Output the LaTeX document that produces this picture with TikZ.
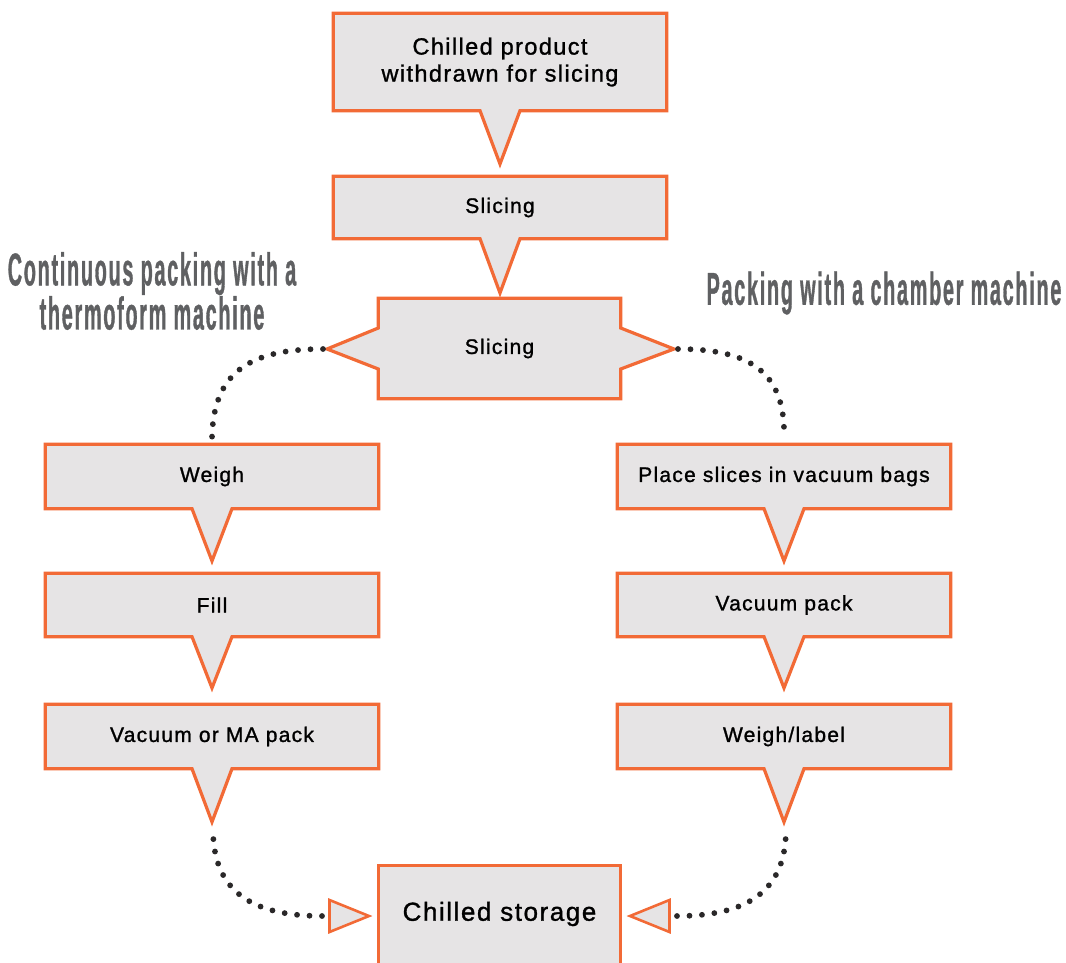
\documentclass[tikz,border=0pt]{standalone}
\usepackage{fontspec}
\usetikzlibrary{calc,backgrounds}
\setmainfont{Liberation Sans}
\newfontfamily\boxfont{Liberation Sans}[LetterSpace=6, FakeBold=1.2]
\newfontfamily\headfont{Liberation Sans}[FakeStretch=0.43, FakeBold=0.7, LetterSpace=3.8]
\definecolor{orangeC}{HTML}{F26A36}
\definecolor{greyC}{HTML}{E6E4E5}
\definecolor{headC}{HTML}{5F6062}
\definecolor{dotC}{HTML}{2A2829}
\tikzset{
  flowbox/.style={draw=orangeC, line width=3.2pt, fill=greyC, line join=miter},
  boxtext/.style={inner sep=0pt, align=center, text=black, font=\boxfont\fontsize{21}{27}\selectfont},
  headtext/.style={inner sep=0pt, align=center, text=headC, font=\headfont\bfseries\fontsize{46}{43}\selectfont},
  dotline/.style={draw=dotC, line width=5.8pt, line cap=round, dash pattern=on 0pt off 12.5pt},
}
\newcommand\downcallout[2]{%
  \draw[flowbox] (#1.north west) -- (#1.north east) -- (#1.south east)
    -- ($(#1.south)+(20,0)$) -- (#2) -- ($(#1.south)+(-20,0)$) -- (#1.south west) -- cycle;}
\begin{document}
\begin{tikzpicture}[x=1pt,y=-1pt]
\useasboundingbox (0,0) rectangle (1066,962);
% text nodes (boxes)
\node[boxtext, minimum width=333pt, minimum height=97pt, font=\boxfont\fontsize{23.5}{27}\selectfont] (b1) at (500,62) {Chilled product\\withdrawn for slicing};
\node[boxtext, minimum width=333pt, minimum height=62pt] (b2) at (500,207.5) {Slicing};
\node[boxtext, minimum width=242pt, minimum height=100pt] (b3) at (499.5,348.5) {Slicing};
\node[boxtext, minimum width=333pt, minimum height=64pt] (w) at (212,476.5) {Weigh};
\node[boxtext, minimum width=333pt, minimum height=63pt] (f) at (212,605) {Fill};
\node[boxtext, minimum width=333pt, minimum height=64pt] (v) at (212,736.5) {Vacuum or MA pack};
\node[boxtext, minimum width=333pt, minimum height=64pt] (p) at (784,476.5) {Place slices in vacuum bags};
\node[boxtext, minimum width=333pt, minimum height=63pt] (vp) at (784,605) {Vacuum pack};
\node[boxtext, minimum width=333pt, minimum height=64pt] (wl) at (784,736.5) {Weigh/label};
\node[boxtext, minimum width=242pt, font=\boxfont\fontsize{26}{30}\selectfont] (cs) at (499.5,914) {Chilled storage};
% pointer tips
\coordinate (t1) at (500,164);
\coordinate (t2) at (500,293);
\coordinate (tw) at (212,561);
\coordinate (tf) at (212,688);
\coordinate (tv) at (212,822);
\coordinate (tp) at (784,561);
\coordinate (tvp) at (784,688);
\coordinate (twl) at (784,822);
\coordinate (s3L) at (327,349);
\coordinate (s3R) at (674,349);
\coordinate (csL) at (369,916);
\coordinate (csR) at (630,916);
\begin{scope}[on background layer]
\downcallout{b1}{t1}
\downcallout{b2}{t2}
\downcallout{w}{tw}
\downcallout{f}{tf}
\downcallout{v}{tv}
\downcallout{p}{tp}
\downcallout{vp}{tvp}
\downcallout{wl}{twl}
\draw[flowbox] (b3.north west) -- (b3.north east) -- ($(b3.east)+(0,-20.5)$) -- (s3R) -- ($(b3.east)+(0,20.5)$)
  -- (b3.south east) -- (b3.south west) -- ($(b3.west)+(0,20.5)$) -- (s3L) -- ($(b3.west)+(0,-20.5)$) -- cycle;
\draw[flowbox] (378.5,1010) -- (378.5,865.5) -- (620.5,865.5) -- (620.5,1010);
\draw[flowbox, line width=2.6pt] (329.5,900) -- (csL) -- (329.5,932) -- cycle;
\draw[flowbox, line width=2.6pt] (669.5,900) -- (csR) -- (669.5,932) -- cycle;
\end{scope}
\coordinate (csLb) at (322,916);
\coordinate (csRb) at (677,916);
% dotted connectors
\draw[dotline] (323,349) .. controls (250,349) and (213,372) .. ([yshift=6pt]w.north);
\draw[dotline] (678,349) .. controls (750,349) and (786,372) .. ([yshift=6pt]p.north);
\draw[dotline] (csLb) .. controls (250,916) and (213,890) .. (213,829);
\draw[dotline] (csRb) .. controls (749,916) and (786,890) .. (786,829);
% headings
\node[headtext] (h1) at (152,291) {Continuous packing with a\\thermoform machine};
\node[headtext] (h2) at (884,293) {Packing with a chamber machine};
\end{tikzpicture}
\end{document}
